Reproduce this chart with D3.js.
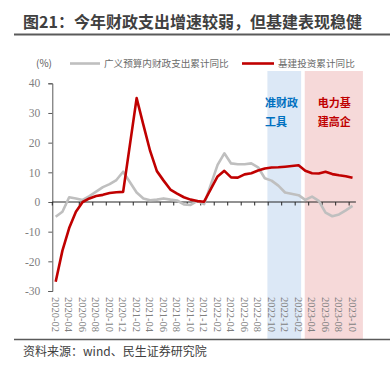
<!DOCTYPE html>
<html>
<head>
<meta charset="utf-8">
<script src="https://cdn.jsdelivr.net/npm/d3@7"></script>
<style>
  body { margin: 0; background: #fff; }
  svg { display: block; }
</style>
</head>
<body>
<svg id="chart" width="390" height="368"></svg>
<script>
"use strict";

// data months (no January: Jan-Feb are reported together)
const dates = [
  "2020-02","2020-03","2020-04","2020-05","2020-06","2020-07","2020-08","2020-09","2020-10","2020-11","2020-12",
  "2021-02","2021-03","2021-04","2021-05","2021-06","2021-07","2021-08","2021-09","2021-10","2021-11","2021-12",
  "2022-02","2022-03","2022-04","2022-05","2022-06","2022-07","2022-08","2022-09","2022-10","2022-11","2022-12",
  "2023-02","2023-03","2023-04","2023-05","2023-06","2023-07","2023-08","2023-09","2023-10"
];
const fiscalSpend = [
  -5.0, -3.3, 1.6, 1.2, 0.7, 2.0, 3.5, 5.0, 6.0, 7.4, 10.2,
  3.2, 1.2, 0.6, 0.8, 1.2, 0.8, 0.5, -0.8, -1.0, 0.4, -0.7,
  12.5, 16.4, 13.0, 12.7, 12.7, 13.0, 11.7, 8.0, 7.2, 5.5, 3.2,
  2.3, 0.7, 1.8, 0.4, -3.6, -4.8, -4.2, -2.8, -1.3
];
const infraInvest = [
  -26.9, -16.4, -8.8, -3.3, 0.0, 1.2, 2.0, 2.4, 3.0, 3.3, 3.4,
  35.0, 26.0, 17.2, 10.4, 7.2, 4.2, 2.8, 1.6, 0.8, 0.3, 0.1,
  8.6, 10.5, 8.3, 8.2, 9.3, 9.7, 10.6, 11.3, 11.6, 11.7, 11.9,
  12.4, 10.5, 9.7, 9.6, 10.2, 9.4, 9.0, 8.7, 8.2
];
const tickLabels = [
  "2020-02","2020-04","2020-06","2020-08","2020-10","2020-12",
  "2021-02","2021-04","2021-06","2021-08","2021-10","2021-12",
  "2022-02","2022-04","2022-06","2022-08","2022-10","2022-12",
  "2023-02","2023-04","2023-06","2023-08","2023-10"
];
const yTicks = [-30, -20, -10, 0, 10, 20, 30, 40];
const seriesNames = ["广义预算内财政支出累计同比", "基建投资累计同比"];

// every month on the axis, January included
let axisMonths = [];
for (let y = 2020; y <= 2023; y++) {
  for (let m = 1; m <= 12; m++) {
    let key = `${y}-${String(m).padStart(2, "0")}`;
    if (key >= "2020-02" && key <= "2023-10") axisMonths.push(key);
  }
}

let svg = d3.select("svg#chart");
const cjk = "'Noto Sans CJK SC', 'Noto Sans', sans-serif";
const serif = "'Liberation Serif', 'DejaVu Serif', serif";

let x = d3.scaleBand().domain(axisMonths).range([52.3, 355.9]).padding(0);
let xc = d => x(d) + x.bandwidth() / 2;
let y = d3.scaleLinear().domain([-30, 40]).range([291, 83.3]);

/* shaded periods */
svg.append("rect")
   .attr("x", x("2022-10") - 0.8)
   .attr("y", 71)
   .attr("width", x("2023-02") + x.bandwidth() - x("2022-10"))
   .attr("height", 268)
   .attr("fill", "#dce8f6");
svg.append("rect")
   .attr("x", x("2023-03") + 2.8)
   .attr("y", 71)
   .attr("width", x("2023-10") + x.bandwidth() + 7 - x("2023-03") - 2.8)
   .attr("height", 268)
   .attr("fill", "#f6d9d9");

/* title */
svg.append("text")
   .attr("x", 23).attr("y", 27.5)
   .style("font-family", cjk).style("font-size", "16px").style("font-weight", "bold")
   .attr("fill", "#404040")
   .text("图21：今年财政支出增速较弱，但基建表现稳健");
svg.append("line")
   .attr("x1", 14).attr("x2", 390).attr("y1", 34.5).attr("y2", 34.5)
   .attr("stroke", "#5a5a5a").attr("stroke-width", 2);

/* unit and legend */
svg.append("text")
   .attr("x", 36).attr("y", 67)
   .style("font-family", cjk).style("font-size", "10px")
   .attr("fill", "#595959").text("(%)");

let legendItems = [
  {name: seriesNames[0], color: "#bfbfbf", x1: 70, x2: 100},
  {name: seriesNames[1], color: "#c00000", x1: 242, x2: 274}
];
legendItems.forEach(d => {
  svg.append("line")
     .attr("x1", d.x1).attr("x2", d.x2).attr("y1", 63.5).attr("y2", 63.5)
     .attr("stroke", d.color).attr("stroke-width", 2.6);
  svg.append("text")
     .attr("x", d.x2 + 4).attr("y", 67)
     .style("font-family", cjk).style("font-size", "9.6px")
     .attr("fill", "#6b6b6b").text(d.name);
});

/* y axis */
let yAxis = svg.append("g")
   .attr("transform", "translate(52.3,0)")
   .call(d3.axisLeft(y).tickValues(yTicks).tickSize(4).tickPadding(8).tickFormat(d => String(d)));
yAxis.select(".domain").attr("stroke", "#595959");
yAxis.selectAll(".tick line").attr("stroke", "#595959");
yAxis.selectAll(".tick text")
     .style("font-family", serif).style("font-size", "11.5px").attr("fill", "#7f7f7f");

/* x axis at zero */
let y0 = y(0);
svg.append("line")
   .attr("x1", 52.3).attr("x2", 355.9).attr("y1", y0).attr("y2", y0)
   .attr("stroke", "#262626").attr("stroke-width", 1.2);
svg.selectAll("line.xtick")
   .data(tickLabels)
   .enter()
   .append("line")
   .attr("class", "xtick")
   .attr("x1", d => x(d)).attr("x2", d => x(d))
   .attr("y1", y0).attr("y2", y0 + 3.5)
   .attr("stroke", "#262626").attr("stroke-width", 1);
svg.selectAll("text.xlabel")
   .data(tickLabels)
   .enter()
   .append("text")
   .attr("class", "xlabel")
   .attr("transform", d => `translate(${xc(d) - 0.5},297) rotate(90)`)
   .attr("dominant-baseline", "central")
   .style("font-family", serif).style("font-size", "10.5px")
   .attr("fill", "#7f7f7f")
   .text(d => d);

/* series lines */
let line = d3.line().x(d => xc(d[0])).y(d => y(d[1]));
svg.append("path")
   .datum(d3.zip(dates, fiscalSpend))
   .attr("d", line)
   .attr("fill", "none").attr("stroke", "#bfbfbf").attr("stroke-width", 2.6)
   .attr("stroke-linejoin", "round");
svg.append("path")
   .datum(d3.zip(dates, infraInvest))
   .attr("d", line)
   .attr("fill", "none").attr("stroke", "#c00000").attr("stroke-width", 2.6)
   .attr("stroke-linejoin", "round");

/* period notes */
let notes = [
  {lines: ["准财政", "工具"], x: 265, color: "#0070c0"},
  {lines: ["电力基", "建高企"], x: 317.7, color: "#c00000"}
];
notes.forEach(n => {
  n.lines.forEach((t, i) => {
    svg.append("text")
       .attr("x", n.x).attr("y", 106.5 + i * 19)
       .style("font-family", cjk).style("font-size", "11px").style("font-weight", "bold")
       .attr("fill", n.color).text(t);
  });
});

/* footer */
svg.append("line")
   .attr("x1", 14).attr("x2", 390).attr("y1", 339.5).attr("y2", 339.5)
   .attr("stroke", "#5a5a5a").attr("stroke-width", 1.5);
svg.append("text")
   .attr("x", 23).attr("y", 356)
   .style("font-family", cjk).style("font-size", "12px")
   .attr("fill", "#404040")
   .text("资料来源：wind、民生证券研究院");
</script>
</body>
</html>
